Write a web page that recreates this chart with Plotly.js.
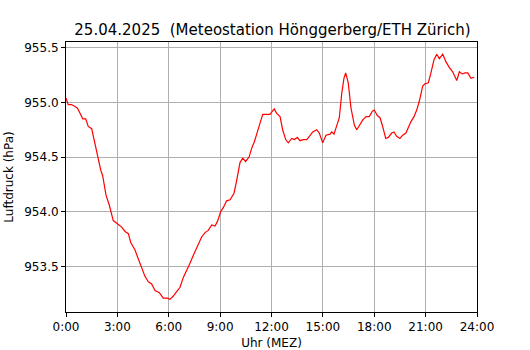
<!DOCTYPE html>
<html>
<head>
<meta charset="utf-8">
<script src="https://cdn.plot.ly/plotly-3.0.1.min.js"></script>
<style>html,body{margin:0;padding:0;background:#fff;}#chart{width:530px;height:350px;}</style>
</head>
<body>
<div id="chart"></div>
<script>
// Time of day in hours (MEZ)
const hours = [0.00,0.13,0.33,0.53,0.66,0.82,0.98,1.15,1.30,1.50,1.69,1.89,2.03,2.14,2.24,2.34,2.53,2.76,3.00,3.25,3.45,3.64,3.78,4.03,4.22,4.42,4.61,4.81,5.00,5.20,5.45,5.68,5.92,6.07,6.27,6.46,6.66,6.85,7.05,7.24,7.43,7.63,7.92,8.12,8.31,8.51,8.70,8.84,9.03,9.19,9.38,9.58,9.81,9.97,10.16,10.32,10.49,10.69,10.84,11.00,11.14,11.29,11.49,11.72,11.91,12.16,12.30,12.50,12.65,12.83,12.98,13.18,13.33,13.51,13.66,13.86,14.06,14.21,14.41,14.64,14.79,14.99,15.18,15.42,15.52,15.65,15.81,15.96,16.10,16.23,16.33,16.48,16.64,16.84,16.98,17.13,17.33,17.52,17.71,17.89,18.00,18.18,18.34,18.49,18.67,18.82,19.02,19.15,19.31,19.50,19.66,19.85,19.99,20.13,20.32,20.48,20.63,20.83,20.96,21.16,21.31,21.49,21.65,21.80,22.00,22.19,22.38,22.58,22.82,22.97,23.14,23.30,23.46,23.65,23.84];
// Air pressure (hPa)
const pressure = [955.04,954.98,954.98,954.96,954.95,954.90,954.85,954.85,954.78,954.76,954.62,954.47,954.38,954.33,954.23,954.15,954.06,953.92,953.89,953.86,953.82,953.80,953.72,953.65,953.57,953.48,953.41,953.36,953.34,953.28,953.26,953.21,953.21,953.20,953.23,953.27,953.31,953.40,953.46,953.53,953.60,953.67,953.77,953.81,953.83,953.88,953.87,953.91,954.00,954.04,954.10,954.11,954.17,954.29,954.45,954.49,954.46,954.50,954.58,954.64,954.72,954.79,954.89,954.89,954.89,954.94,954.90,954.87,954.75,954.66,954.63,954.67,954.66,954.68,954.65,954.66,954.66,954.69,954.73,954.75,954.72,954.63,954.70,954.71,954.73,954.71,954.78,954.86,955.08,955.22,955.27,955.18,954.95,954.79,954.75,954.79,954.84,954.87,954.87,954.92,954.93,954.88,954.86,954.78,954.67,954.68,954.72,954.73,954.69,954.67,954.70,954.72,954.77,954.82,954.87,954.93,955.01,955.15,955.17,955.18,955.27,955.39,955.44,955.40,955.44,955.37,955.32,955.28,955.20,955.28,955.26,955.27,955.27,955.22,955.23];
const xTickVals = [0,3,6,9,12,15,18,21,24];
const xTickText = ["0:00","3:00","6:00","9:00","12:00","15:00","18:00","21:00","24:00"];
const yTickVals = [953.5,954.0,954.5,955.0,955.5];
const yTickText = ["953.5","954.0","954.5","955.0","955.5"];

const font = "DejaVu Sans, sans-serif";
Plotly.newPlot("chart", [{
  x: hours, y: pressure, type: "scatter", mode: "lines",
  line: {color: "#ff0000", width: 1.2}, hoverinfo: "none"
}], {
  width: 530, height: 350,
  margin: {l: 66, r: 53, t: 42, b: 38},
  paper_bgcolor: "#fff", plot_bgcolor: "#fff",
  showlegend: false,
  font: {family: font, size: 12, color: "#000"},
  title: {text: "25.04.2025  (Meteostation Hönggerberg/ETH Zürich)", font: {family: font, size: 15, color: "#000"}, x: 0.514, xanchor: "center", y: 0.915, yanchor: "middle"},
  xaxis: {
    range: [0, 24], tickvals: xTickVals, ticktext: xTickText,
    showgrid: true, gridcolor: "#b0b0b0", gridwidth: 1,
    showline: true, linecolor: "#000", linewidth: 1, mirror: true,
    ticks: "outside", ticklen: 4, tickcolor: "#000", zeroline: false,
    tickfont: {family: font, size: 12},
    title: {text: "Uhr (MEZ)", font: {family: font, size: 12}, standoff: 5}
  },
  yaxis: {
    range: [953.084, 955.552], tickvals: yTickVals, ticktext: yTickText,
    showgrid: true, gridcolor: "#b0b0b0", gridwidth: 1,
    showline: true, linecolor: "#000", linewidth: 1, mirror: true,
    ticks: "outside", ticklen: 4, tickcolor: "#000", zeroline: false,
    tickfont: {family: font, size: 12},
    title: {text: "Luftdruck (hPa)", font: {family: font, size: 12}, standoff: 8}
  }
}, {staticPlot: true, displayModeBar: false});
</script>
</body>
</html>
